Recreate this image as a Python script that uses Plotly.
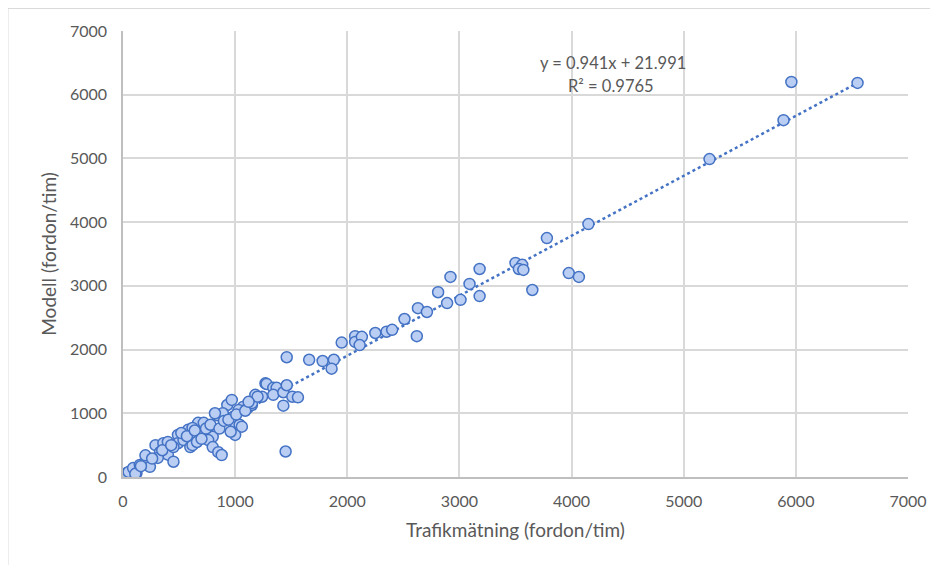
import plotly.graph_objects as go

# Measured traffic (x) vs model (y), vehicles/hour
trafik = [30, 50, 90, 120, 110, 150, 200, 240, 200, 290, 360, 330, 400, 450, 310,
          490, 490, 540, 580, 620, 600, 450, 400, 670, 690, 620, 660, 710, 760, 720,
          800, 760, 800, 850, 880, 620, 840, 930, 970, 890, 820, 980, 1000, 1040, 1000,
          960, 1060, 1070, 1030, 1110, 1150, 1150, 1180, 1240, 1200, 1270, 1280, 1340, 1370, 1340,
          1430, 1460, 1430, 1510, 1560, 1450, 1460, 1660, 1780, 1880, 1860, 1950,
          520, 570, 640, 700, 740, 780, 860, 900, 940, 1010, 1090, 1120, 160, 260, 350, 430,
          2070, 2070, 2130, 2110, 2250, 2350, 2400, 2510, 2620, 2630, 2710, 2810, 2890, 2920,
          3010, 3090, 3180, 3180, 3500, 3560, 3530, 3570, 3650, 3780, 3975, 4065, 4150,
          5230, 5890, 5960, 6550]
modell = [60, 80, 140, 60, 50, 190, 220, 160, 340, 500, 530, 390, 350, 240, 300,
          660, 530, 580, 740, 610, 470, 470, 550, 850, 690, 500, 550, 710, 790, 850,
          630, 580, 470, 390, 345, 770, 970, 1130, 1210, 1000, 1000, 940, 850, 820, 660,
          710, 790, 1100, 1050, 1080, 1130, 1160, 1290, 1260, 1260, 1470, 1460, 1400, 1400, 1290,
          1330, 1440, 1120, 1260, 1250, 400, 1880, 1840, 1820, 1840, 1700, 2110,
          690, 640, 730, 600, 760, 820, 760, 880, 900, 980, 1040, 1180, 170, 290, 420, 500,
          2210, 2120, 2200, 2070, 2260, 2280, 2310, 2480, 2210, 2650, 2590, 2900, 2730, 3140,
          2780, 3030, 3265, 2840, 3360, 3330, 3265, 3250, 2935, 3750, 3200, 3140, 3970,
          4990, 5600, 6200, 6185]

# Trendline from the chart's equation
slope = 0.941
intercept = 21.991
r2 = 0.9765
x_ticks = [0, 1000, 2000, 3000, 4000, 5000, 6000, 7000]
y_ticks = [0, 1000, 2000, 3000, 4000, 5000, 6000, 7000]

grey = "#595959"
blue = "#4472C4"
font = "Lato"

tx = [min(trafik), max(trafik)]
ty = [slope * v + intercept for v in tx]

fig = go.Figure()
fig.add_trace(go.Scatter(x=tx, y=ty, mode="lines",
                         line=dict(color=blue, width=2.5, dash="dot"),
                         hoverinfo="skip", showlegend=False))
fig.add_trace(go.Scatter(x=trafik, y=modell, mode="markers",
                         marker=dict(size=11, color="#BACEF4",
                                     line=dict(color=blue, width=1.5)),
                         showlegend=False))

fig.add_annotation(xref="x", yref="y", x=4365, y=6490,
                   text=f"y = {slope}x + {intercept}", showarrow=False,
                   font=dict(family=font, size=16.5, color=grey))
fig.add_annotation(xref="x", yref="y", x=4355, y=6130,
                   text=f"R² = {r2}", showarrow=False,
                   font=dict(family=font, size=16.5, color=grey))

# outer chart border
fig.add_shape(type="rect", xref="paper", yref="paper",
              x0=-0.1465, x1=1.08, y0=-0.23, y1=1.0505,
              line=dict(color="#D9D9D9", width=1), fillcolor="rgba(0,0,0,0)",
              layer="below")

fig.update_layout(
    width=930, height=557,
    margin=dict(l=115, r=30, t=23, b=88),
    paper_bgcolor="white", plot_bgcolor="white",
    font=dict(family=font, color=grey, size=16),
    xaxis=dict(range=[0, 7000], tickvals=x_ticks, ticks="",
               showgrid=True, gridcolor="#D9D9D9", gridwidth=1.5,
               showline=True, linecolor="#BFBFBF", linewidth=1.5,
               zeroline=False, ticklabelstandoff=9, automargin=True,
               title=dict(text="Trafikmätning (fordon/tim)", standoff=15,
                          font=dict(size=19, color=grey)),
               tickfont=dict(size=16, color=grey)),
    yaxis=dict(range=[0, 7000], tickvals=y_ticks, ticks="",
               showgrid=True, gridcolor="#D9D9D9", gridwidth=1.5,
               showline=True, linecolor="#BFBFBF", linewidth=1.5,
               zeroline=False, ticklabelstandoff=11, automargin=True,
               title=dict(text="Modell (fordon/tim)", standoff=8,
                          font=dict(size=19, color=grey)),
               tickfont=dict(size=16, color=grey)),
)

fig.write_html("out.html")
